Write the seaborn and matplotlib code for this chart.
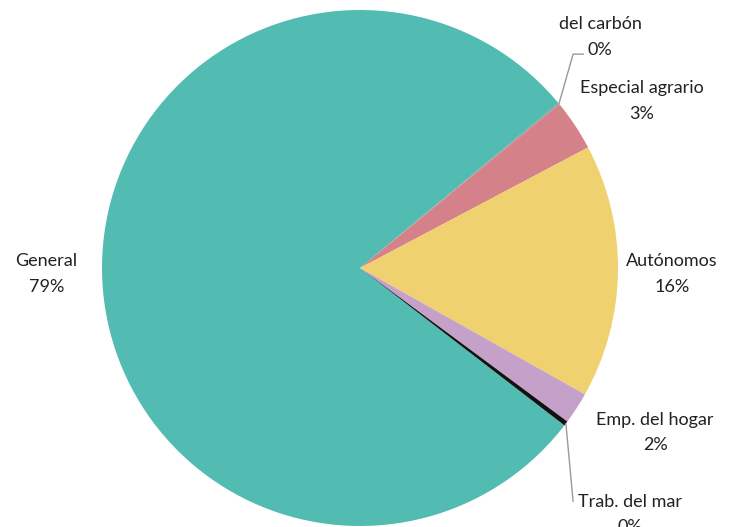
import numpy as np
import matplotlib.pyplot as plt
import seaborn as sns

# regimen shares (%)
categories = ["General", "del carbón", "Especial agrario", "Autónomos",
              "Emp. del hogar", "Trab. del mar"]
shares = [78.6, 0.1, 3.2, 15.9, 2.0, 0.3]
colors = ["#52bbb2", "#9a9a9a", "#d4818a", "#f0d170", "#c5a0c9", "#111111"]

sns.set_theme(style="white")
plt.rcParams["font.family"] = ["Lato", "DejaVu Sans"]

fig = plt.figure(figsize=(7.38, 5.27), dpi=100)
ax = fig.add_axes([0, 0, 1, 1])

start = -37.6
wedges, _ = ax.pie(shares, colors=colors, startangle=start, counterclock=False,
                   radius=1.0, wedgeprops=dict(linewidth=0))

# label placement: (distance, angle nudge) for regular labels
layout = {
    "General": (1.215, 0.0),
    "Especial agrario": (1.27, -3.0),
    "Autónomos": (1.21, -0.3),
    "Emp. del hogar": (1.31, 3.8),
}
# small slices get a leader line: (elbow xy, end xy, text center xy)
leaders = {
    "del carbón": ((0.826, 0.829), (0.866, 0.829), (0.93, 0.895)),
    "Trab. del mar": ((0.826, -0.905), None, (1.047, -0.955)),
}

txt_color = "#222222"
fs = 13
for w, name, val in zip(wedges, categories, shares):
    mid = np.deg2rad((w.theta1 + w.theta2) / 2)
    label = f"{name}\n{val:.0f}%"
    if name in layout:
        d, nudge = layout[name]
        a = mid + np.deg2rad(nudge)
        ax.text(d * np.cos(a), d * np.sin(a), label, ha="center", va="center",
                fontsize=fs, color=txt_color, linespacing=1.75)
    else:
        elbow, end, tpos = leaders[name]
        xs = [np.cos(mid), elbow[0]]
        ys = [np.sin(mid), elbow[1]]
        if end is not None:
            xs.append(end[0])
            ys.append(end[1])
        ax.plot(xs, ys, color="#999999", lw=1.0)
        ax.text(tpos[0], tpos[1], label, ha="center", va="center",
                fontsize=fs, color=txt_color, linespacing=1.75)

ax.set_xlim(-360 / 258, (738 - 360) / 258)
ax.set_ylim((268 - 527) / 258, 268 / 258)
ax.set_aspect("auto")
ax.axis("off")

fig.savefig("out.png", dpi=100, facecolor="white")
